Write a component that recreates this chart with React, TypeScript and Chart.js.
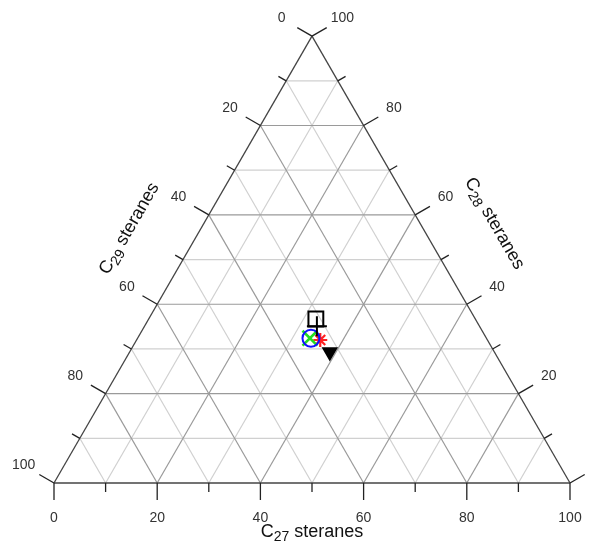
import React, { useEffect, useRef } from "react";
import { Chart, registerables } from "chart.js";

Chart.register(...registerables);

// ---- data ----
const tickValues = [0, 10, 20, 30, 40, 50, 60, 70, 80, 90, 100];
const labelValues = [0, 20, 40, 60, 80, 100];
const seriesNames = ["S1", "S2", "S3", "S4", "S5", "S6"];
const c27Values = [32.4, 33.4, 33.6, 33.4, 35.6, 38.8];
const c28Values = [36.7, 35.1, 32.4, 32.4, 32.0, 29.3];
const c29Values = [30.9, 31.5, 34.0, 34.2, 32.4, 31.9];
const axisTitles = { bottom: ["C", "27", " steranes"], left: ["C", "29", " steranes"], right: ["C", "28", " steranes"] };

const H = Math.sqrt(3) / 2;
function toXY(a: number, b: number, c: number) {
  const s = a + b + c;
  const A = (a / s) * 100, B = (b / s) * 100;
  return { x: A + B / 2, y: B * H };
}

const FONT = '"Liberation Sans", Arial, sans-serif';

const ternaryPlugin = {
  id: "ternary",
  beforeDatasetsDraw(chart: any) {
    const ctx = chart.ctx;
    const xs = chart.scales.x, ys = chart.scales.y;
    const P = (a: number, b: number, c: number) => {
      const p = toXY(a, b, c);
      return [xs.getPixelForValue(p.x), ys.getPixelForValue(p.y)];
    };
    const line = (p: number[], q: number[], color: string, w: number) => {
      ctx.beginPath();
      ctx.strokeStyle = color;
      ctx.lineWidth = w;
      ctx.moveTo(p[0], p[1]);
      ctx.lineTo(q[0], q[1]);
      ctx.stroke();
    };
    ctx.save();
    for (const pass of [0, 1]) {
      for (const v of tickValues) {
        if (v === 0 || v === 100) continue;
        const major = v % 20 === 0;
        if ((pass === 1) !== major) continue;
        const col = major ? "#9a9a9a" : "#d0d0d0";
        line(P(100 - v, v, 0), P(0, v, 100 - v), col, 1.2);
        line(P(v, 100 - v, 0), P(v, 0, 100 - v), col, 1.2);
        line(P(0, 100 - v, v), P(100 - v, 0, v), col, 1.2);
      }
    }
    const A = P(100, 0, 0), B = P(0, 100, 0), C = P(0, 0, 100);
    line(C, A, "#444", 1.3);
    line(C, B, "#444", 1.3);
    line(A, B, "#444", 1.3);
    const dirs = { bottom: [0, 1], left: [-H, -0.5], right: [H, -0.5] };
    for (const v of tickValues) {
      const len = v % 20 === 0 ? 17 : 9;
      const pb = P(v, 0, 100 - v);
      line(pb, [pb[0] + dirs.bottom[0] * len, pb[1] + dirs.bottom[1] * len], "#222", 1.3);
      const pl = P(0, 100 - v, v);
      line(pl, [pl[0] + dirs.left[0] * len, pl[1] + dirs.left[1] * len], "#222", 1.3);
      const pr = P(100 - v, v, 0);
      line(pr, [pr[0] + dirs.right[0] * len, pr[1] + dirs.right[1] * len], "#222", 1.3);
    }
    ctx.restore();
  },
  afterDraw(chart: any) {
    const ctx = chart.ctx;
    const xs = chart.scales.x, ys = chart.scales.y;
    const P = (a: number, b: number, c: number) => {
      const p = toXY(a, b, c);
      return [xs.getPixelForValue(p.x), ys.getPixelForValue(p.y)];
    };
    ctx.save();
    ctx.fillStyle = "#333";
    ctx.font = `14px ${FONT}`;
    ctx.textAlign = "center";
    ctx.textBaseline = "middle";
    const D = 35;
    for (const v of labelValues) {
      const pb = P(v, 0, 100 - v);
      ctx.fillText(String(v), pb[0], pb[1] + D);
      const pl = P(0, 100 - v, v);
      ctx.fillText(String(v), pl[0] - H * D, pl[1] - 0.5 * D);
      const pr = P(100 - v, v, 0);
      ctx.fillText(String(v), pr[0] + H * D, pr[1] - 0.5 * D);
    }
    const drawTitle = (parts: string[], cx: number, cy: number, rot: number) => {
      ctx.save();
      ctx.translate(cx, cy);
      ctx.rotate(rot);
      ctx.fillStyle = "#111";
      const mainF = `18px ${FONT}`, subF = `14px ${FONT}`;
      ctx.font = mainF;
      const w0 = ctx.measureText(parts[0]).width;
      const w2 = ctx.measureText(parts[2]).width;
      ctx.font = subF;
      const w1 = ctx.measureText(parts[1]).width;
      let x = -(w0 + w1 + w2) / 2;
      ctx.textAlign = "left";
      ctx.textBaseline = "middle";
      ctx.font = mainF;
      ctx.fillText(parts[0], x, 0);
      x += w0;
      ctx.font = subF;
      ctx.fillText(parts[1], x, 5);
      x += w1;
      ctx.font = mainF;
      ctx.fillText(parts[2], x, 0);
      ctx.restore();
    };
    const bm = P(50, 0, 50);
    drawTitle(axisTitles.bottom, bm[0], bm[1] + 49, 0);
    const lm = P(0, 50, 50);
    drawTitle(axisTitles.left, lm[0] - H * 62, lm[1] - 0.5 * 62, -Math.PI / 3);
    const rm = P(50, 50, 0);
    drawTitle(axisTitles.right, rm[0] + H * 64 - 2, rm[1] - 0.5 * 64 - 4, Math.PI / 3);
    ctx.restore();
  },
};

const markerStyles = [
  { pointStyle: "rect", color: "#000000", radius: 10.5, fill: false, rotation: 0, width: 2 },
  { pointStyle: "cross", color: "#000000", radius: 10, fill: false, rotation: 0, width: 2 },
  { pointStyle: "circle", color: "#1010ff", radius: 8.5, fill: false, rotation: 0, width: 2 },
  { pointStyle: "crossRot", color: "#22dd22", radius: 10.5, fill: false, rotation: 0, width: 2.6 },
  { pointStyle: "star", color: "#ff2020", radius: 7, fill: false, rotation: 0, width: 2.2 },
  { pointStyle: "triangle", color: "#000000", radius: 7.5, fill: true, rotation: 180, width: 2 },
];

export default function App() {
  const ref = useRef<HTMLCanvasElement | null>(null);
  useEffect(() => {
    if (!ref.current) return;
    const datasets = seriesNames.map((name, i) => {
      const st = markerStyles[i];
      return {
        label: name,
        data: [toXY(c27Values[i], c28Values[i], c29Values[i])],
        pointStyle: st.pointStyle,
        pointRadius: st.radius,
        pointRotation: st.rotation,
        borderColor: st.color,
        backgroundColor: st.fill ? st.color : "rgba(0,0,0,0)",
        borderWidth: st.width,
        order: i,
      };
    });
    const chart = new Chart(ref.current, {
      type: "scatter",
      data: { datasets: datasets as any },
      options: {
        animation: false,
        responsive: false,
        maintainAspectRatio: false,
        layout: { padding: 0, autoPadding: false },
        plugins: { legend: { display: false }, tooltip: { enabled: false } },
        scales: {
          x: { type: "linear", display: false, min: -54 / 5.16, max: (597 - 54) / 5.16 },
          y: { type: "linear", display: false, min: (483 - 545) / 5.16, max: 483 / 5.16 },
        },
      },
      plugins: [ternaryPlugin],
    });
    return () => chart.destroy();
  }, []);
  return (
    <div style={{ position: "fixed", left: 0, top: 0, width: 597, height: 545, background: "#fff" }}>
      <canvas ref={ref} width={597} height={545} style={{ width: 597, height: 545 }} />
    </div>
  );
}
